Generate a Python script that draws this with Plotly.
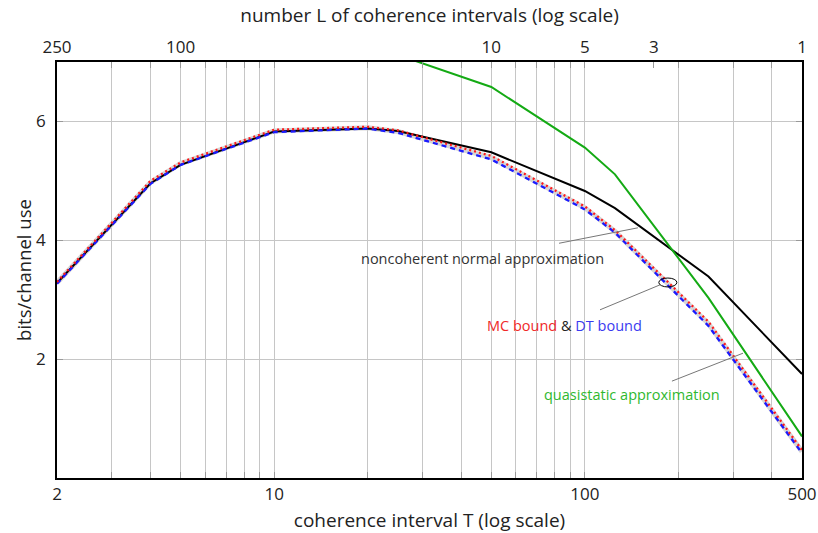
import plotly.graph_objects as go
import numpy as np

# coherence interval T (divisors of 500)
T = [2, 4, 5, 10, 20, 25, 50, 100, 125, 250, 500]
normal_approx = [3.28, 4.96, 5.27, 5.83, 5.88, 5.84, 5.48, 4.83, 4.54, 3.39, 1.75]
mc_bound = [3.30, 5.00, 5.31, 5.86, 5.91, 5.85, 5.42, 4.57, 4.17, 2.63, 0.47]
dt_bound = [3.27, 4.95, 5.27, 5.82, 5.88, 5.81, 5.36, 4.52, 4.13, 2.56, 0.42]
T_qs = [25, 50, 100, 125, 250, 500]
quasistatic = [7.12, 6.58, 5.56, 5.11, 3.03, 0.70]

# top axis: number of coherence intervals L = 500 / T
L_labels = [250, 100, 10, 5, 3, 1]
x_ticks = [2, 3, 4, 5, 6, 7, 8, 9, 10, 20, 30, 40, 50, 60, 70, 80, 90, 100, 200, 300, 400, 500]
x_labels = ["2", "", "", "", "", "", "", "", "10", "", "", "", "", "", "", "", "", "100", "", "", "", "500"]
y_ticks = [2, 4, 6]

FONT = "Open Sans"
GRID = "#c6c6c6"
TXT = "#222"

fig = go.Figure()
band = [(a + b) / 2 for a, b in zip(mc_bound, dt_bound)]
fig.add_trace(go.Scatter(x=T, y=band, mode="lines", line=dict(color="#d6d6d6", width=5), showlegend=False))
fig.add_trace(go.Scatter(x=T, y=normal_approx, mode="lines", line=dict(color="black", width=2), showlegend=False))
fig.add_trace(go.Scatter(x=T_qs, y=quasistatic, mode="lines", line=dict(color="#14aa14", width=2), showlegend=False))
fig.add_trace(go.Scatter(x=T, y=dt_bound, mode="lines", line=dict(color="#1a1aff", width=2.3, dash="5px,4px"), showlegend=False))
fig.add_trace(go.Scatter(x=T, y=mc_bound, mode="lines", line=dict(color="#ff1a1a", width=2.3, dash="2px,3px"), showlegend=False))
# invisible trace for top axis
L_T = [500 / l for l in L_labels]
fig.add_trace(go.Scatter(x=L_T, y=[None] * len(L_T), xaxis="x2", mode="markers", showlegend=False, hoverinfo="skip"))

fig.update_layout(
    width=818, height=533,
    margin=dict(l=57, r=16, t=62, b=55),
    paper_bgcolor="white", plot_bgcolor="white",
    font=dict(family=FONT, size=14, color=TXT),
    xaxis=dict(
        type="log", range=[np.log10(2), np.log10(500)],
        tickvals=x_ticks, ticktext=x_labels, automargin=False,
        ticks="inside", ticklen=6, tickcolor="#999", tickwidth=1,
        showgrid=True, gridcolor=GRID, gridwidth=1.3,
        showline=True, linecolor="black", linewidth=1.5, mirror="ticks",
        tickfont=dict(size=17, family=FONT, color=TXT),
        title=dict(text="coherence interval T (log scale)", font=dict(size=19, family=FONT, color=TXT), standoff=10),
        zeroline=False,
    ),
    xaxis2=dict(
        type="log", range=[np.log10(2), np.log10(500)], overlaying="x", side="top", anchor="y",
        tickvals=L_T, ticktext=[str(l) for l in L_labels], automargin=False,
        ticks="inside", ticklen=6, tickcolor="#999",
        showgrid=False, showline=False,
        tickfont=dict(size=17, family=FONT, color=TXT),
        ticklabelstandoff=5,
        title=dict(text="number L of coherence intervals (log scale)", font=dict(size=19, family=FONT, color=TXT), standoff=6),
    ),
    yaxis=dict(
        range=[0, 7], tickvals=y_ticks, automargin=False,
        ticks="inside", ticklen=6, tickcolor="#999",
        showgrid=True, gridcolor=GRID, gridwidth=1.3,
        showline=True, linecolor="black", linewidth=1.5, mirror="ticks",
        tickfont=dict(size=17, family=FONT, color=TXT),
        ticklabelstandoff=6,
        title=dict(text="bits/channel use", font=dict(size=18.5, family=FONT, color=TXT), standoff=0),
        zeroline=False,
    ),
)

lg = np.log10
fig.add_annotation(x=lg(46.7), y=3.70, text="noncoherent normal approximation", showarrow=False,
                   font=dict(size=14.5, color="#333", family=FONT))
fig.add_annotation(x=lg(86.3), y=2.57,
                   text="<span style='color:#f02828'>MC bound</span> & <span style='color:#3a3af0'>DT bound</span>",
                   showarrow=False, font=dict(size=14.5, color=TXT, family=FONT))
fig.add_annotation(x=lg(141.8), y=1.40, text="quasistatic approximation", showarrow=False,
                   font=dict(size=14.5, color="#2fb82f", family=FONT))

lead = dict(color="#777", width=1)
fig.add_shape(type="line", x0=82.6, y0=3.95, x1=148.2, y1=4.21, line=lead)
fig.add_shape(type="line", x0=111.9, y0=2.83, x1=174.5, y1=3.25, line=lead)
fig.add_shape(type="line", x0=190.7, y0=1.63, x1=322.9, y1=2.10, line=lead)
fig.add_shape(type="circle", x0=173.0, x1=197.8, y0=3.215, y1=3.365, line=dict(color="black", width=1))

fig.write_html("out.html")
